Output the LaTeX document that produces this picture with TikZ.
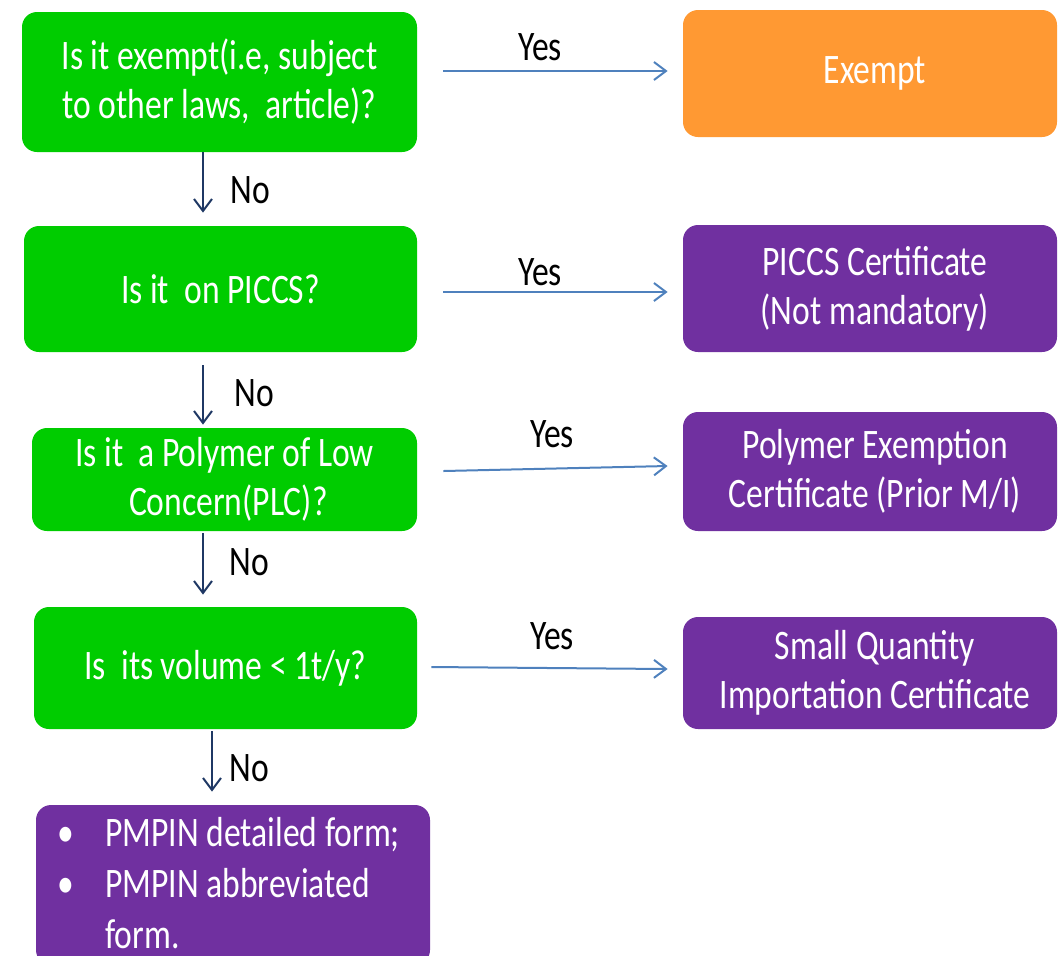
\documentclass[tikz,border=0pt]{standalone}
\usepackage{fontspec}
\setmainfont{Carlito}[FakeStretch=0.8]
\usetikzlibrary{arrows.meta,calc}
\definecolor{qgreen}{HTML}{00CC00}
\definecolor{rorange}{HTML}{FF9933}
\definecolor{rpurple}{HTML}{7030A0}
\definecolor{navy}{HTML}{1F3864}
\definecolor{steel}{HTML}{4F81BD}
\newcommand{\rs}{\hspace*{5pt}}
\tikzset{
  box/.style={rounded corners=7.5pt, inner sep=2pt, align=center, text=white,
    font=\fontsize{21}{24.5}\selectfont},
  qbox/.style={box, fill=qgreen},
  obox/.style={box, fill=rorange},
  pbox/.style={box, fill=rpurple},
  noarrow/.style={draw=navy, line width=1pt, -{Straight Barb[length=6pt,width=9pt]}},
  yesarrow/.style={draw=steel, line width=1pt, -{Straight Barb[length=6pt,width=9pt]}},
  lbl/.style={font=\fontsize{21}{24.5}\selectfont, text=black, inner sep=0pt}
}
\begin{document}
\begin{tikzpicture}[x=0.5pt,y=-0.5pt]
\useasboundingbox (0,0) rectangle (1058,955);
\clip (0,0) rectangle (1058,955);
% questions
\node[qbox, minimum width=197.5pt, minimum height=70pt] (q1) at (219.5,82) {Is it exempt(i.e, subject\\to other laws,\ \ article)?};
\node[qbox, minimum width=196.5pt, minimum height=63pt] (q2) at (220.5,289) {Is it\ \ on PICCS?};
\node[qbox, minimum width=192.5pt, minimum height=51.5pt] (q3) at (224.5,479.5) {Is it\ \ a Polymer of Low\\\ Concern(PLC)?};
\node[qbox, minimum width=191.5pt, minimum height=61pt] (q4) at (225.5,668) {Is\ \ its volume < 1t/y?};
% results
\node[obox, minimum width=187pt, minimum height=63.5pt] (r1) at (870,73.5) {\rs Exempt};
\node[pbox, minimum width=187pt, minimum height=63.5pt] (r2) at (870,288.5) {\rs PICCS Certificate\\\rs (Not mandatory)};
\node[pbox, minimum width=187pt, minimum height=59.5pt] (r3) at (870,471.5) {\rs Polymer Exemption\\\rs Certificate (Prior M/I)};
\node[pbox, minimum width=187pt, minimum height=56pt] (r4) at (870,673) {\rs Small Quantity\\\rs Importation Certificate};
\node[pbox, minimum width=197pt, minimum height=80pt] (p) at (233,885) {};
\node[anchor=north west, align=left, text=white, inner sep=0pt,
  font=\fontsize{21}{25.5}\selectfont] (pt) at (57,817)
  {\makebox[24pt][l]{\textbullet}PMPIN detailed form;\\
   \makebox[24pt][l]{\textbullet}PMPIN abbreviated\\
   \makebox[24pt][l]{}form.};
% No arrows
\draw[noarrow] ($(q1.south)+(-16.5,0)$) coordinate (n1a) -- ($(q2.north)+(-17.5,-13)$) coordinate (n1b);
\draw[noarrow] ($(q2.south)+(-17.5,13)$) coordinate (n2a) -- ($(q3.north)+(-21.5,-3)$) coordinate (n2b);
\draw[noarrow] ($(q3.south)+(-21.5,2)$) coordinate (n3a) -- ($(q4.north)+(-22.5,-12)$) coordinate (n3b);
\draw[noarrow] ($(q4.south)+(-13.5,2)$) coordinate (n4a) -- ($(p.north)+(-21,-13)$) coordinate (n4b);
\node[lbl] at (250,190) {No};
\node[lbl] at (254,393) {No};
\node[lbl] at (249,562) {No};
\node[lbl] at (249,768) {No};
% Yes arrows
\draw[yesarrow] ($(q1.east)+(26,-11)$) coordinate (y1a) -- ($(r1.west)+(-15,-2.5)$) coordinate (y1b);
\draw[yesarrow] ($(q2.east)+(26,3)$) coordinate (y2a) -- ($(r2.west)+(-15,3.5)$) coordinate (y2b);
\draw[yesarrow] ($(q3.east)+(26,-8.5)$) coordinate (y3a) -- ($(r3.west)+(-15,-5.5)$) coordinate (y3b);
\draw[yesarrow] ($(q4.east)+(14,-1)$) coordinate (y4a) -- ($(r4.west)+(-15,-4)$) coordinate (y4b);
\node[lbl] at (540,47) {Yes};
\node[lbl] at (540,272) {Yes};
\node[lbl] at (552,434) {Yes};
\node[lbl] at (552,636) {Yes};
\end{tikzpicture}
\end{document}
